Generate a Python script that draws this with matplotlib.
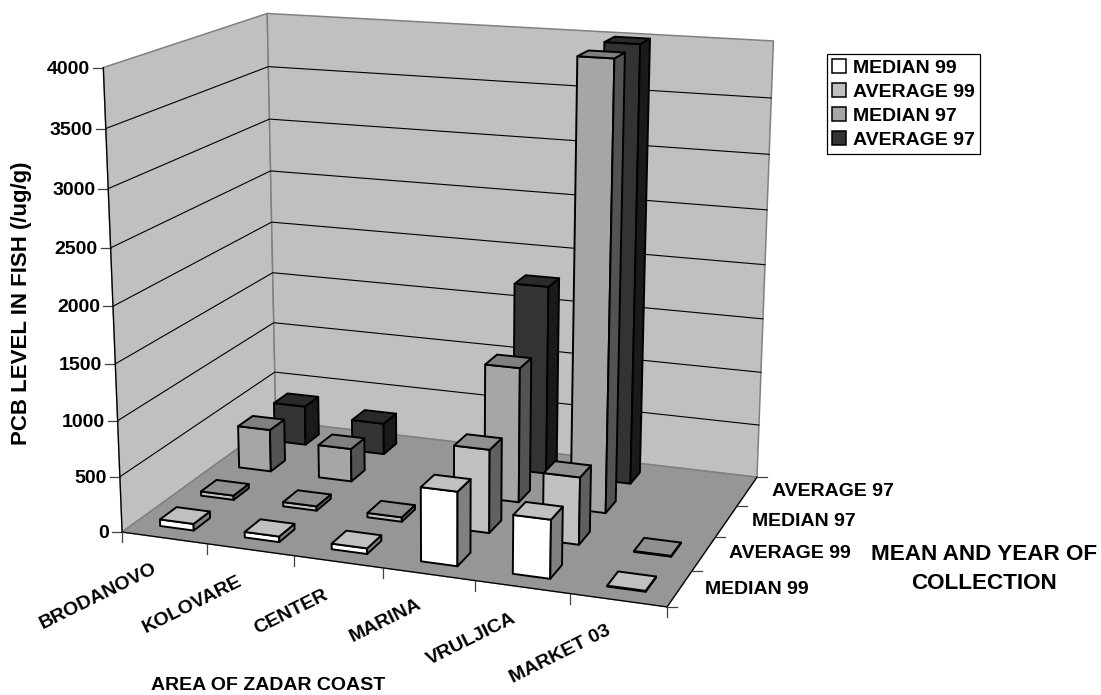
import matplotlib
matplotlib.use('Agg')
import matplotlib.pyplot as plt
from matplotlib.patches import Patch
import numpy as np

plt.rcParams['font.family'] = ['Liberation Sans', 'DejaVu Sans']
plt.rcParams['font.weight'] = 'bold'

areas = ['BRODANOVO', 'KOLOVARE', 'CENTER', 'MARINA', 'VRULJICA', 'MARKET 03']
series = ['MEDIAN 99', 'AVERAGE 99', 'MEDIAN 97', 'AVERAGE 97']
median_99 = [60, 50, 50, 650, 510, 8]
average_99 = [40, 40, 40, 750, 600, 8]
median_97 = [400, 310, np.nan, 1240, 4000, np.nan]
average_97 = [380, 300, np.nan, 1770, 4000, np.nan]
z_ticks = [0, 500, 1000, 1500, 2000, 2500, 3000, 3500, 4000]
z_max = 4000

# front, side, top shades per series
shades = [('#FFFFFF', '#808080', '#C0C0C0'),
          ('#C0C0C0', '#606060', '#909090'),
          ('#A6A6A6', '#535353', '#808080'),
          ('#333333', '#1A1A1A', '#2A2A2A')]

# camera: fit a projection to the corners of the plot box (pixels in the image)
corners = [((0, 0, 0), (122, 532)), ((1, 0, 0), (667, 607)),
           ((1, 1, 0), (757, 477)), ((0, 1, 0), (276, 421)),
           ((0, 0, 1), (103.5, 67.5)), ((1, 1, 1), (773.5, 41)),
           ((0, 1, 1), (267, 13.5))]
rows, rhs = [], []
for (a, b, c), (u, v) in corners:
    rows.append([a, b, c, 1, 0, 0, 0, 0, -u * a, -u * b, -u * c])
    rows.append([0, 0, 0, 0, a, b, c, 1, -v * a, -v * b, -v * c])
    rhs += [u, v]
cam = np.append(np.linalg.lstsq(np.array(rows), np.array(rhs), rcond=None)[0], 1).reshape(3, 4)


def proj(x, y, z):
    # x = area position, y = series position, z = PCB value
    p = cam @ np.array([x / len(areas), y / len(series), z / z_max, 1])
    return p[0] / p[2], p[1] / p[2]


fig = plt.figure(figsize=(11.01, 6.95), dpi=100)
ax = fig.add_axes([0, 0, 1, 1])
ax.set_xlim(0, 1101)
ax.set_ylim(695, 0)
ax.axis('off')


def face(pts, color, ec='black', lw=1.4, zorder=2):
    xy = [proj(*p) for p in pts]
    ax.fill(*zip(*xy), facecolor=color, edgecolor=ec, linewidth=lw, zorder=zorder, joinstyle='round')


nx, ny = len(areas), len(series)
# walls and floor
face([(0, 0, 0), (0, ny, 0), (0, ny, z_max), (0, 0, z_max)], '#C0C0C0', ec='#808080', lw=1.1, zorder=1)
face([(0, ny, 0), (nx, ny, 0), (nx, ny, z_max), (0, ny, z_max)], '#C0C0C0', ec='#808080', lw=1.1, zorder=1)
face([(0, 0, 0), (nx, 0, 0), (nx, ny, 0), (0, ny, 0)], '#969696', ec='#808080', lw=1.1, zorder=1)

# gridlines, z ticks and labels
for t in z_ticks:
    a, b, c = proj(0, 0, t), proj(0, ny, t), proj(nx, ny, t)
    if t > 0 and t < z_max:
        ax.plot([a[0], b[0], c[0]], [a[1], b[1], c[1]], color='black', lw=0.8, zorder=1.5)
    ax.plot([a[0] - 10, a[0]], [a[1], a[1]], color='#404040', lw=0.9, zorder=1.5)
    ax.text(a[0] - 13, a[1] + 1.5, str(t), ha='right', va='center', fontsize=14)

# axis edges
for p, q in [((0, 0, 0), (nx, 0, 0)), ((0, 0, 0), (0, 0, z_max)), ((nx, 0, 0), (nx, ny, 0))]:
    a, b = proj(*p), proj(*q)
    ax.plot([a[0], b[0]], [a[1], b[1]], color='black', lw=0.9, zorder=1.6)
for i in range(nx + 1):
    a = proj(i, 0, 0)
    ax.plot([a[0], a[0]], [a[1], a[1] + 10], color='#404040', lw=0.9, zorder=1.6)
for j in range(ny + 1):
    a = proj(nx, j, 0)
    ax.plot([a[0], a[0] + 10], [a[1], a[1]], color='#404040', lw=0.9, zorder=1.6)

# bars, back row first
values = [median_99, average_99, median_97, average_97]
half_x, half_y = 0.2, 0.2
for j in range(ny - 1, -1, -1):
    for i in range(nx):
        v = values[j][i]
        if np.isnan(v):
            continue
        front, side, top = shades[j]
        x0, x1 = i + 0.5 - half_x, i + 0.5 + half_x
        y0, y1 = j + 0.5 - half_y, j + 0.5 + half_y
        face([(x0, y0, 0), (x1, y0, 0), (x1, y0, v), (x0, y0, v)], front)
        face([(x1, y0, 0), (x1, y1, 0), (x1, y1, v), (x1, y0, v)], side)
        face([(x0, y0, v), (x1, y0, v), (x1, y1, v), (x0, y1, v)], top)

# labels
area_pos = [(98, 596), (192, 605), (291, 612), (386, 621), (471, 639), (560, 654)]
for name, (px, py) in zip(areas, area_pos):
    ax.text(px, py, name, rotation=26.5, rotation_mode='anchor', ha='center', va='center', fontsize=14)
series_pos = [(705, 590), (729, 554), (752, 522), (772, 492)]
for name, (px, py) in zip(series, series_pos):
    ax.text(px, py, name, ha='left', va='center', fontsize=14)

ax.text(22, 303, 'PCB LEVEL IN FISH (/ug/g)', rotation=90, ha='center', va='center', fontsize=16)
ax.text(268, 686, 'AREA OF ZADAR COAST', ha='center', va='center', fontsize=14)
ax.text(984, 569, 'MEAN AND YEAR OF\nCOLLECTION', ha='center', va='center', fontsize=16.2, linespacing=1.5)

handles = [Patch(facecolor=s[0], edgecolor='black', linewidth=1.1) for s in shades]
leg = ax.legend(handles, series, loc='upper left', bbox_to_anchor=(827 / 1101, 1 - 54 / 695),
                bbox_transform=fig.transFigure, borderaxespad=0, fontsize=14, frameon=True,
                fancybox=False, framealpha=1, edgecolor='black', handlelength=0.75, handleheight=0.75,
                handletextpad=0.35, labelspacing=0.32, borderpad=0.25)
leg.get_frame().set_linewidth(0.9)
leg.set_zorder(5)

fig.savefig('out.png', dpi=100)
